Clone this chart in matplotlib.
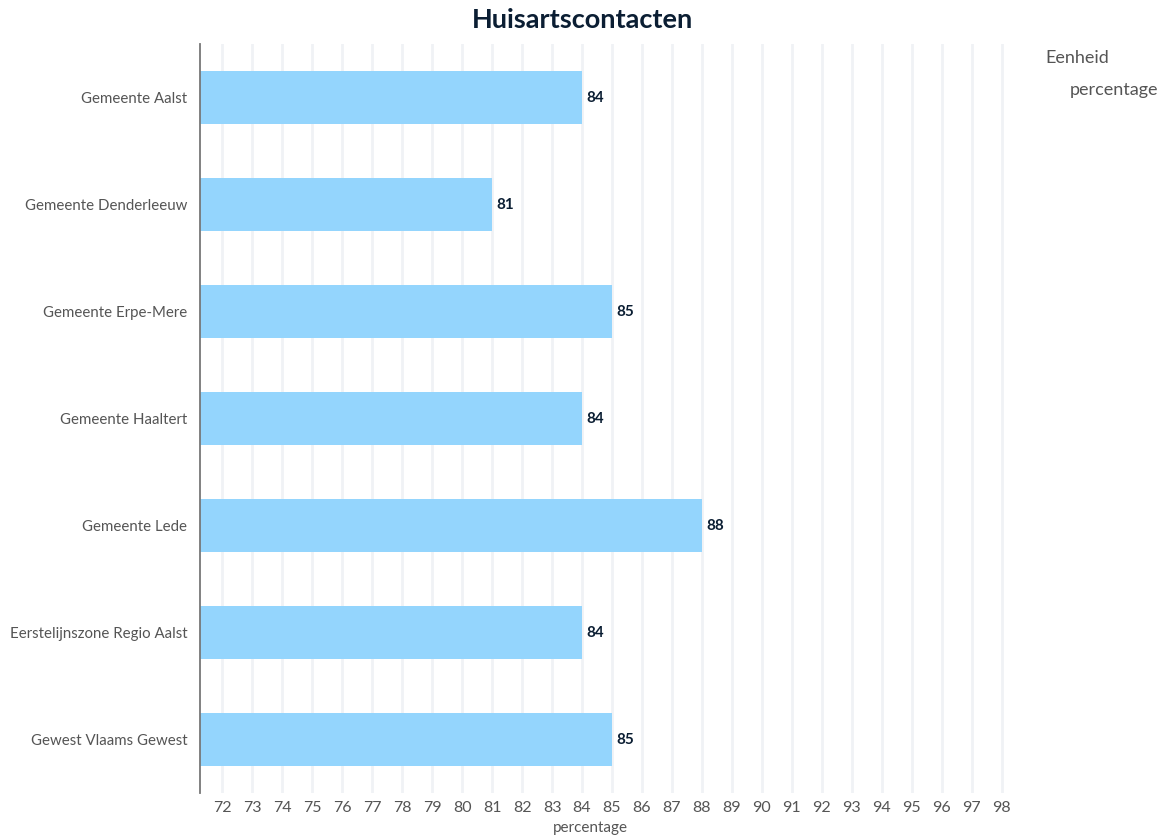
import matplotlib.pyplot as plt
import numpy as np

plt.rcParams['font.family'] = ['Lato', 'DejaVu Sans']

gebieden = ["Gemeente Aalst", "Gemeente Denderleeuw", "Gemeente Erpe-Mere",
            "Gemeente Haaltert", "Gemeente Lede", "Eerstelijnszone Regio Aalst",
            "Gewest Vlaams Gewest"]
waarden = [84, 81, 85, 84, 88, 84, 85]
ticks = list(range(72, 99))

fig = plt.figure(figsize=(11.67, 8.36), dpi=100)
ax = fig.add_axes([200/1167, 1 - 793/836, 812/1167, 749/836])

y = np.arange(len(gebieden))
ax.barh(y, waarden, height=0.5, color='#94d5fd', zorder=2)
for yi, v in zip(y, waarden):
    ax.text(v + 0.15, yi, str(v), va='center', ha='left', fontsize=11,
            fontweight='bold', color='#0b1e33', zorder=3)

ax.set_xlim(71.25, 98.35)
ax.set_ylim(len(gebieden) - 0.5, -0.5)
ax.set_xticks(ticks)
ax.set_xticklabels([str(t) for t in ticks], fontsize=11.5, color='#555555')
ax.set_yticks(y)
ax.set_yticklabels(gebieden, fontsize=10.8, color='#555555')
ax.tick_params(axis='x', length=0, pad=6)
ax.tick_params(axis='y', length=0, pad=9)
ax.grid(axis='x', color='#f0f2f5', linewidth=2, zorder=0)
ax.set_axisbelow(True)
for s in ['top', 'right', 'bottom']:
    ax.spines[s].set_visible(False)
ax.spines['left'].set_color('#777777')
ax.spines['left'].set_linewidth(1.3)

ax.set_xlabel("percentage", fontsize=11, color='#555555')
ax.xaxis.set_label_coords((590 - 200) / 812, -0.037)

fig.text(582/1167, 1 - 20/836, "Huisartscontacten", ha='center', va='center',
         fontsize=19.5, fontweight='bold', color='#0b1e33')
fig.text(1045/1167, 1 - 58/836, "Eenheid", ha='left', va='center',
         fontsize=13, color='#555555')
fig.text(1070/1167, 1 - 90/836, "percentage", ha='left', va='center',
         fontsize=13, color='#555555')

fig.savefig("out.png", dpi=100)
